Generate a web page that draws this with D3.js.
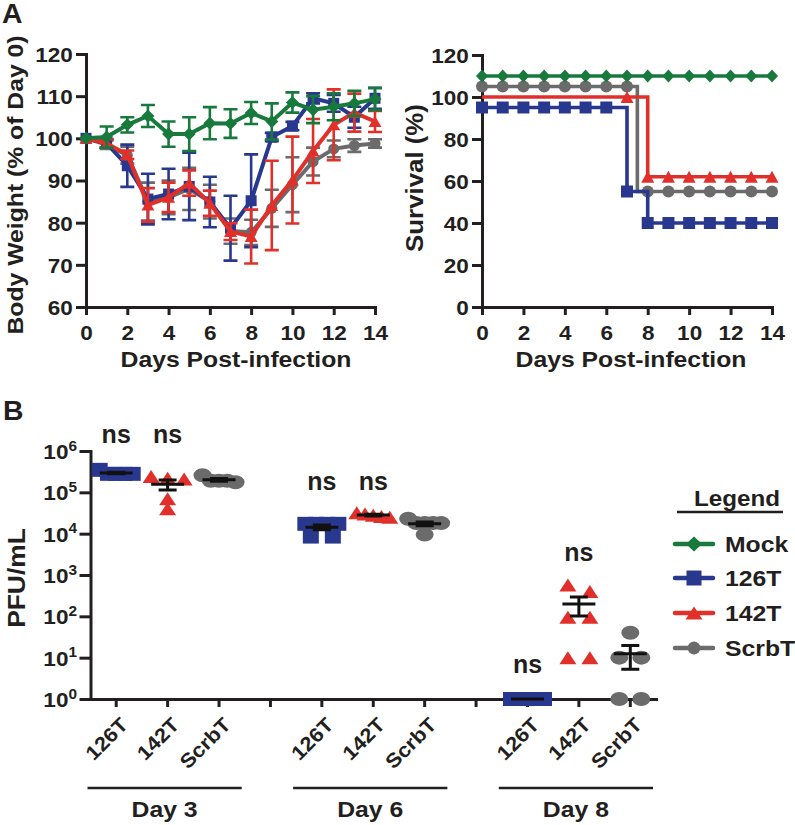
<!DOCTYPE html>
<html><head><meta charset="utf-8">
<script src="https://cdn.jsdelivr.net/npm/d3@7"></script>
<style>
body{margin:0;background:#fff;}
svg text{font-family:"Liberation Sans",Arial,Helvetica,sans-serif;font-weight:bold;fill:#231f20;}
</style></head><body>
<svg id="c" width="795" height="825"></svg>
<script>
// ---------------- DATA ----------------
const seriesNames = ["Mock", "126T", "142T", "ScrbT"];
const days = [0,1,2,3,4,5,6,7,8,9,10,11,12,13,14];
const dayTicks = [0,2,4,6,8,10,12,14];
const weightTicks = [60,70,80,90,100,110,120];
const survTicks = [0,20,40,60,80,100,120];

const weightMock = [100,100.3,103.2,105.3,101.0,101.0,103.6,103.5,106.0,104.0,108.5,106.8,107.5,108.3,109.3];
const errMock    = [0,2.5,1.8,2.6,3.0,4.0,3.8,3.4,2.6,4.3,2.4,3.2,3.2,3.0,2.6];
const weight126  = [100,98.8,93.5,85.6,86.8,88.6,84.9,78.7,85.2,100.3,102.9,109.5,108.3,105.0,109.5];
const err126     = [0,1.0,5.0,6.0,6.0,8.0,6.0,7.7,11.0,1.0,1.0,1.2,2.0,2.5,2.5];
const weight142  = [100,98.8,96.1,84.2,86.0,89.4,84.6,77.9,76.7,84.1,90.1,97.0,103.2,106.1,104.0];
const err142     = [0,1.0,1.0,4.0,3.5,3.0,3.0,2.0,6.4,10.6,10.3,7.6,8.4,4.5,2.5];
const weightScrb = [100,98.5,96.0,85.0,86.0,88.0,85.0,78.0,77.7,83.4,89.0,94.5,97.5,98.3,98.8];
const errScrb    = [0,1.0,2.0,4.5,4.0,5.0,4.0,3.0,3.0,4.4,6.5,3.3,2.0,1.5,1.0];

// survival (plotted with vertical offsets as in the figure): step times and values
const survMockT = [0,14],      survMockV = [110,110];
const surv126T  = [0,7,8,14],  surv126V  = [95,55,40,40];
const surv142T  = [0,8,14],    surv142V  = [100,62,62];
const survScrbT = [0,7.5,14],  survScrbV = [105,55,55];
const survMarkMock = [0,1,2,3,4,5,6,7,8,9,10,11,12,13,14];
const survMark126  = [0,1,2,3,4,5,6,7,8,9,10,11,12,13,14];
const survMark142  = [7,8,9,10,11,12,13,14];
const survMarkScrb = [0,1,2,3,4,5,6,7,8,9,10,11,12,13,14];

// PFU panel
const slotLabels = ["126T","142T","ScrbT","","126T","142T","ScrbT","","126T","142T","ScrbT"];
const slotSeries = ["126T","142T","ScrbT",null,"126T","142T","ScrbT",null,"126T","142T","ScrbT"];
const dayGroups = ["Day 3","Day 6","Day 8"];
const dayGroupSlots = [[0,2],[4,6],[8,10]];
const pfuTicks = [1,10,100,1000,10000,100000,1000000];
const pfuTickExp = ["0","1","2","3","4","5","6"];
const pfuD3_126  = [2.8e5,2.8e5,2.8e5,2.8e5,3.5e5];
const pfuD3_142  = [2.4e5,2.2e5,2.1e5,7.0e4,4.0e4];
const pfuD3_Scrb = [2.6e5,1.9e5,1.9e5,1.9e5,1.75e5];
const pfuD6_126  = [1.73e4,1.73e4,1.73e4,1.73e4,8.5e3,8.5e3];
const pfuD6_142  = [3.0e4,2.8e4,3.2e4,2.6e4,2.5e4];
const pfuD6_Scrb = [2.3e4,1.8e4,1.8e4,1.8e4,1.8e4,9.5e3];
const pfuD8_126  = [1,1,1,1];
const pfuD8_142  = [575,400,95,95,10,10];
const pfuD8_Scrb = [40,10,10,1,1];
const pfuSlots = [pfuD3_126,pfuD3_142,pfuD3_Scrb,null,pfuD6_126,pfuD6_142,pfuD6_Scrb,null,pfuD8_126,pfuD8_142,pfuD8_Scrb];
const nsSlots  = [0,1,4,5,8,9];
const nsLevels = [2.45e6,2.45e6,1.8e5,1.8e5,6.6,3.4e3];

// ---------------- STYLE ----------------
const colors = {"Mock":"#177a3c","126T":"#29388f","142T":"#e1302a","ScrbT":"#6b6b6b"};
const shapes = {"Mock":"diamond","126T":"square","142T":"triangle","ScrbT":"circle"};
const INK = "#231f20";
const SX = 1.1;
const TICK_FS = 20.5, TITLE_FS = 22.5;

const svg = d3.select("#c");

function txt(g, x, y, s, o = {}) {
  return g.append("text")
    .attr("transform", `translate(${x},${y})` + (o.rot ? ` rotate(${o.rot})` : "") + ` scale(${o.sx || SX},1)`)
    .attr("text-anchor", o.anchor || "middle")
    .style("font-size", (o.size || TITLE_FS) + "px")
    .text(s);
}
function shapePath(type, w, h) {
  const a = w / 2, b = h / 2;
  if (type === "square") return `M${-a},${-b}H${a}V${b}H${-a}Z`;
  if (type === "triangle") return `M0,${-b}L${a},${b}L${-a},${b}Z`;
  if (type === "diamond") return `M0,${-b}L${a},0L0,${b}L${-a},0Z`;
  return `M${-a},0A${a},${b} 0 1,0 ${a},0A${a},${b} 0 1,0 ${-a},0Z`;
}
const markSize = {
  weight: {square:[11,11], triangle:[13,11], circle:[11,11], diamond:[13,13]},
  surv:   {square:[12,12], triangle:[13,12], circle:[12,12], diamond:[12,13]},
  legend: {square:[15,15], triangle:[17,13], circle:[13,13], diamond:[16,15]},
  pfu:    {square:[16,14], triangle:[17,13], circle:[18,14], diamond:[16,14]}
};
function mark(g, name, x, y, set) {
  const t = shapes[name], s = markSize[set][t];
  g.append("path").attr("d", shapePath(t, s[0], s[1]))
    .attr("transform", `translate(${x},${y})`).attr("fill", colors[name]);
}
function styleAxis(g, fs) {
  g.select(".domain").attr("stroke", INK).attr("stroke-width", 3).attr("stroke-linecap", "square");
  g.selectAll(".tick line").attr("stroke", INK).attr("stroke-width", 3);
  g.selectAll(".tick text").attr("fill", INK).style("font-size", (fs || TICK_FS) + "px")
    .attr("transform", `scale(${SX},1)`);
}

// ---------------- PANEL A (left): body weight ----------------
const xW = d3.scaleLinear().domain([0,14]).range([86,375]);
const yW = d3.scaleLinear().domain([60,120]).range([307,54]);
{
  const g = svg.append("g");
  const ax = g.append("g").attr("transform", `translate(0,${yW(60)})`)
    .call(d3.axisBottom(xW).tickValues(dayTicks).tickSize(8).tickPadding(10).tickSizeOuter(0));
  styleAxis(ax);
  const ay = g.append("g").attr("transform", `translate(${xW(0)},0)`)
    .call(d3.axisLeft(yW).tickValues(weightTicks).tickSize(10).tickPadding(2).tickSizeOuter(0));
  styleAxis(ay);
  ay.selectAll(".tick text").attr("dy", "0.36em");

  const wData = {"Mock":[weightMock,errMock],"126T":[weight126,err126],"142T":[weight142,err142],"ScrbT":[weightScrb,errScrb]};
  const order = ["ScrbT","126T","142T","Mock"];
  const line = d3.line().x((d,i)=>xW(days[i])).y(d=>yW(d));
  order.forEach(n => {
    const [v, e] = wData[n];
    const sg = g.append("g");
    v.forEach((d,i) => {
      if (!e[i]) return;
      const x = xW(days[i]);
      sg.append("path").attr("d", `M${x},${yW(d+e[i])}V${yW(d-e[i])}M${x-7},${yW(d+e[i])}H${x+7}M${x-7},${yW(d-e[i])}H${x+7}`)
        .attr("stroke", colors[n]).attr("stroke-width", 2.6).attr("fill","none");
    });
    sg.append("path").attr("d", line(v)).attr("stroke", colors[n]).attr("stroke-width", 4).attr("fill","none");
    v.forEach((d,i) => mark(sg, n, xW(days[i]), yW(d), "weight"));
  });
  txt(g, 236, 367, "Days Post-infection");
  txt(g, 23, 185, "Body Weight (% of Day 0)", {rot:-90});
}

// ---------------- PANEL A (right): survival ----------------
const xS = d3.scaleLinear().domain([0,14]).range([482,772]);
const yS = d3.scaleLinear().domain([0,120]).range([307,55]);
{
  const g = svg.append("g");
  const ax = g.append("g").attr("transform", `translate(0,${yS(0)})`)
    .call(d3.axisBottom(xS).tickValues(dayTicks).tickSize(8).tickPadding(10).tickSizeOuter(0));
  styleAxis(ax);
  const ay = g.append("g").attr("transform", `translate(${xS(0)},0)`)
    .call(d3.axisLeft(yS).tickValues(survTicks).tickSize(10).tickPadding(2).tickSizeOuter(0));
  styleAxis(ay);
  ay.selectAll(".tick text").attr("dy", "0.36em");

  const sData = {"Mock":[survMockT,survMockV,survMarkMock],"126T":[surv126T,surv126V,survMark126],
                 "142T":[surv142T,surv142V,survMark142],"ScrbT":[survScrbT,survScrbV,survMarkScrb]};
  const order = ["ScrbT","142T","126T","Mock"];
  const step = d3.line().curve(d3.curveStepAfter).x(d=>xS(d[0])).y(d=>yS(d[1]));
  order.forEach(n => {
    const [T, V, M] = sData[n];
    const sg = g.append("g");
    sg.append("path").attr("d", step(T.map((t,i)=>[t,V[i]])))
      .attr("stroke", colors[n]).attr("stroke-width", 3.6).attr("fill","none");
    M.forEach(d => {
      let v = V[0];
      T.forEach((t,i)=>{ if (t <= d) v = V[i]; });
      mark(sg, n, xS(d), yS(v), "surv");
    });
  });
  txt(g, 631, 367, "Days Post-infection");
  txt(g, 423, 178, "Survival (%)", {rot:-90, size:23.5});
}

// ---------------- PANEL B: PFU ----------------
const xP = d3.scaleBand().domain(d3.range(slotLabels.length)).range([90.5,656]).padding(0);
const yP = d3.scaleLog().domain([1,1e6]).range([699,451]);
{
  const g = svg.append("g");
  const ay = g.append("g").attr("transform", `translate(90.5,0)`)
    .call(d3.axisLeft(yP).tickValues(pfuTicks).tickSize(11).tickFormat("").tickSizeOuter(0));
  styleAxis(ay);
  ay.selectAll(".tick").each(function(d,i){
    const t = d3.select(this).append("text")
      .attr("transform", `translate(-13.5,7.5) scale(${SX},1)`)
      .attr("text-anchor","end").style("font-size", TICK_FS + "px");
    t.append("tspan").text("10");
    t.append("tspan").attr("dy", -8.5).style("font-size","14px").text(pfuTickExp[i]);
  });
  const ax = g.append("g").attr("transform", `translate(0,${yP(1)})`)
    .call(d3.axisBottom(xP).tickSize(8).tickFormat("").tickSizeOuter(0));
  styleAxis(ax);
  slotLabels.forEach((s,i) => {
    if (!s) return;
    txt(g, xP(i) + xP.bandwidth()/2 + 13, yP(1) + 27, s, {rot:-45, anchor:"end", size:20});
  });
  dayGroups.forEach((s,k) => {
    const [a,b] = dayGroupSlots[k];
    const x0 = xP(a) - 3, x1 = xP(b) + xP.bandwidth() - 3;
    g.append("line").attr("x1",x0).attr("x2",x1).attr("y1",788).attr("y2",788)
      .attr("stroke", INK).attr("stroke-width", 2.6);
    txt(g, (x0+x1)/2, 817, s);
  });

  pfuSlots.forEach((vals,i) => {
    if (!vals) return;
    const n = slotSeries[i];
    const cx = xP(i) + xP.bandwidth()/2;
    const sorted = vals.map(v=>({v, y:yP(v)})).sort((a,b)=>a.y-b.y);
    const rows = [];
    sorted.forEach(p => {
      const r = rows[rows.length-1];
      if (r && Math.abs(p.y - r[0].y) < 8) r.push(p); else rows.push([p]);
    });
    const sg = g.append("g");
    rows.forEach(r => {
      const sp = r.length > 1 ? Math.min(22, 33/(r.length-1)) : 0;
      r.forEach((p,j) => mark(sg, n, cx + (j - (r.length-1)/2)*sp, p.y, "pfu"));
    });
    const m = d3.mean(vals), sem = d3.deviation(vals)/Math.sqrt(vals.length);
    const ym = yP(m), yt = yP(m+sem), yb = yP(Math.max(m-sem, 1));
    sg.append("path").attr("d",
      `M${cx-16.5},${ym}H${cx+16.5}M${cx},${yt}V${yb}M${cx-9},${yt}H${cx+9}M${cx-9},${yb}H${cx+9}`)
      .attr("stroke","#111").attr("stroke-width",3).attr("fill","none");
  });
  nsSlots.forEach((s,k) => {
    txt(g, xP(s) + xP.bandwidth()/2, yP(nsLevels[k]) + 8, "ns", {size:25, sx:1.0});
  });
  txt(g, 25, 578, "PFU/mL", {rot:-90, size:24});

  // legend
  txt(g, 737, 506, "Legend", {size:22});
  g.append("line").attr("x1",677).attr("x2",783).attr("y1",512).attr("y2",512).attr("stroke",INK).attr("stroke-width",2.5);
  const legY = [544,578,613,648];
  seriesNames.forEach((n,k) => {
    g.append("line").attr("x1",675).attr("x2",713).attr("y1",legY[k]).attr("y2",legY[k])
      .attr("stroke",colors[n]).attr("stroke-width",4.5).attr("stroke-linecap","round");
    mark(g, n, 694, legY[k], "legend");
    txt(g, 725, legY[k] + 8, n, {anchor:"start", size:22.5});
  });
}

// panel letters
txt(svg, 2, 23, "A", {anchor:"start", size:27, sx:1.05});
txt(svg, 3, 420, "B", {anchor:"start", size:27, sx:1.05});
</script>
</body></html>
